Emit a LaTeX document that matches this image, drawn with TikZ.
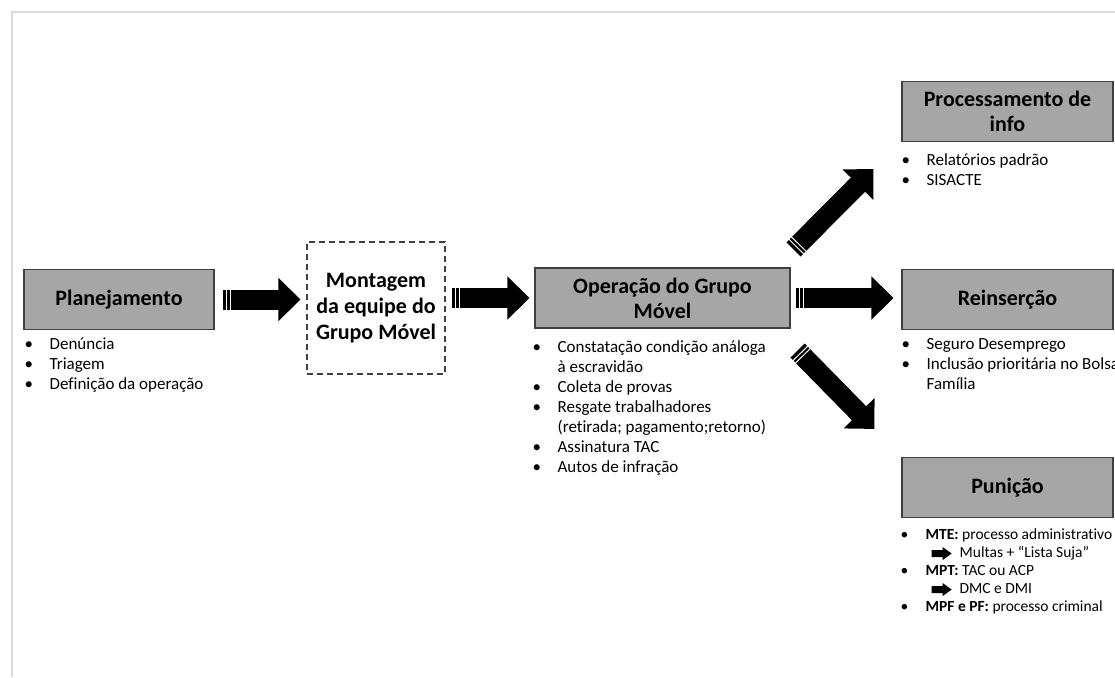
\documentclass[tikz,border=0pt]{standalone}
\usepackage{fontspec}
\setmainfont{Carlito}[Ligatures={TeX,CommonOff}]
\usetikzlibrary{arrows.meta,decorations.markings,positioning}

\definecolor{boxgray}{RGB}{166,166,166}
\definecolor{boxline}{RGB}{64,64,64}
\definecolor{framegray}{RGB}{218,218,218}

\newcommand{\bitem}[1]{\makebox[25pt][l]{\textbullet}#1}
\newcommand{\bcont}[1]{\hspace*{25pt}#1}
\newcommand{\minarrow}{\tikz[baseline=-4pt]\fill[black] (0pt,-3.5pt) -- (11pt,-3.5pt) -- (11pt,-6.5pt) -- (20pt,0pt) -- (11pt,6.5pt) -- (11pt,3.5pt) -- (0pt,3.5pt) -- cycle;}
\newenvironment{blist}{\begin{tabular}[t]{@{}l@{}}}{\end{tabular}}

\begin{document}
\begin{tikzpicture}[x=1pt,y=-1pt,
  stage/.style={draw=boxline,fill=boxgray,line width=1.1pt,inner sep=0pt,
    minimum width=211pt,minimum height=60pt,align=center,
    font=\bfseries\fontsize{22}{25}\selectfont},
  teambox/.style={draw=boxline,dash pattern=on 6pt off 4pt,line width=1.1pt,
    inner sep=0pt,minimum width=138pt,minimum height=132pt,align=center,
    font=\bfseries\fontsize{22}{26}\selectfont},
  bullets/.style={anchor=base west,inner sep=0pt,
    font=\fontsize{17}{20}\selectfont},
  smallbullets/.style={bullets,font=\fontsize{15.5}{18}\selectfont},
  bigarrow/.style={line width=20pt,-{Triangle[length=22pt,width=42pt]},
    postaction=decorate,decoration={markings,
      mark=at position 4pt with {\draw[-,white,line width=1pt] (0pt,-11pt) -- (0pt,11pt);},
      mark=at position 7.5pt with {\draw[-,white,line width=1pt] (0pt,-11pt) -- (0pt,11pt);}}}]

\useasboundingbox (0,0) rectangle (1115,677);
\clip (0,0) rectangle (1115,677);
\draw[framegray,line width=1.2pt] (12,677) -- (12,12) -- (1115,12);

% stages
\node[stage,minimum width=190pt] (plan) at (119,299.5) {Planejamento};
\node[teambox] (team) at (376,308) {Montagem\\da equipe do\\Grupo Móvel};
\node[stage,minimum width=255pt] (oper) at (662.5,298) {Operação do Grupo\\Móvel};
\node[stage] (proc) at (1007.5,111.5) {Processamento de\\info};
\node[stage] (reins) at (1007.5,299.5) {Reinserção};
\node[stage] (pun) at (1007.5,487.5) {Punição};

% lists under the stages
\node[bullets] (planlist) at ([shift={(1,19.5)}]plan.south west)
  {\begin{blist}\bitem{Denúncia}\\ \bitem{Triagem}\\ \bitem{Definição da operação}\end{blist}};
\node[bullets] (operlist) at ([shift={(-2,24)}]oper.south west)
  {\begin{blist}\bitem{Constatação condição análoga}\\ \bcont{à escravidão}\\
   \bitem{Coleta de provas}\\ \bitem{Resgate trabalhadores}\\
   \bcont{(retirada; pagamento;retorno)}\\ \bitem{Assinatura TAC}\\
   \bitem{Autos de infração}\end{blist}};
\node[bullets,font=\fontsize{17}{19.5}\selectfont] (proclist) at ([shift={(0,23.5)}]proc.south west)
  {\begin{blist}\bitem{Relatórios padrão}\\ \bitem{SISACTE}\end{blist}};
\node[bullets] (reinslist) at ([shift={(0,19.5)}]reins.south west)
  {\begin{blist}\bitem{Seguro Desemprego}\\ \bitem{Inclusão prioritária no Bolsa}\\ \bcont{Família}\end{blist}};
\node[smallbullets] (punlist) at ([shift={(-1,21.5)}]pun.south west)
  {\begin{blist}\bitem{\textbf{MTE:} processo administrativo}\\
   \bcont{\hspace*{6pt}\minarrow\hspace{8pt}Multas + “Lista Suja”}\\
   \bitem{\textbf{MPT:} TAC ou ACP}\\
   \bcont{\hspace*{6pt}\minarrow\hspace{8pt}DMC e DMI}\\
   \bitem{\textbf{MPF e PF:} processo criminal}\end{blist}};

% block arrows
\draw[bigarrow] ([xshift=8pt]plan.east) -- ([xshift=-6pt]plan.east -| team.west);
\draw[bigarrow] ([xshift=6pt]oper.west -| team.east) -- ([xshift=-5pt]oper.west);
\draw[bigarrow] ([xshift=5pt]oper.east) -- ([xshift=-8pt]oper.east -| reins.west);
\draw[bigarrow] ([shift={(3,-18)}]oper.north east) -- ([shift={(-28,27)}]proc.south west);
\draw[bigarrow] ([shift={(7,22)}]oper.south east) -- ([shift={(-27,-28)}]pun.north west);

\end{tikzpicture}
\end{document}
